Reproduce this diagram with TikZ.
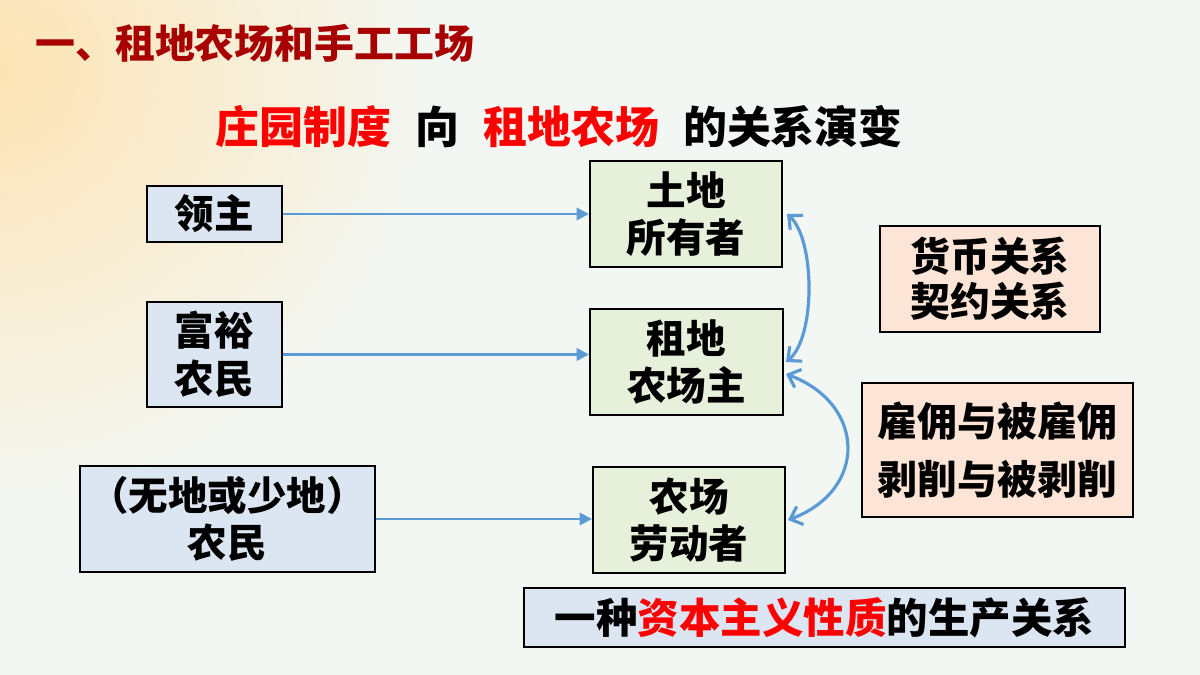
\documentclass[tikz,border=0pt]{standalone}
\usepackage{fontspec}
\setmainfont{Noto Sans CJK SC}[BoldFont={Noto Sans CJK SC Black}]
\usetikzlibrary{arrows.meta,calc}
\definecolor{bgc}{HTML}{F3F7F3}
\definecolor{bgo}{HTML}{FDE4B4}
\definecolor{titlered}{HTML}{A80000}
\definecolor{bluefill}{HTML}{DCE6F2}
\definecolor{greenfill}{HTML}{E6F0DA}
\definecolor{peachfill}{HTML}{FCE4D6}
\definecolor{arrowblue}{HTML}{5B9BD5}
\definecolor{hred}{HTML}{FF0000}
\tikzset{
  box/.style={draw=black, line width=1.2pt, inner sep=0pt, align=center, font=\bfseries\fontsize{22.5}{27}\selectfont},
  leftbox/.style={box, fill=bluefill},
  midbox/.style={box, fill=greenfill},
  rightbox/.style={box, fill=peachfill},
  arr/.style={draw=arrowblue, line width=1.6pt, -{Triangle[length=7pt,width=7pt]}},
  carr/.style={draw=arrowblue, line width=1.8pt, {Straight Barb[length=6pt,width=11pt]}-{Straight Barb[length=6pt,width=11pt]}}
}
\begin{document}
\begin{tikzpicture}[x=0.02cm,y=-0.02cm]
\useasboundingbox (0,0) rectangle (1200,675);
\fill[bgc] (0,0) rectangle (1200,675);
\begin{scope}
\clip (0,0) rectangle (1200,675);
\shade[inner color=bgo, outer color=bgc] (0,70) circle (440);
\end{scope}
% title
\node[anchor=west, text=titlered, font=\bfseries\fontsize{22.7}{27}\selectfont, inner sep=0pt] (title) at (35,43) {一、租地农场和手工工场};
\node[anchor=west, font=\bfseries\fontsize{25}{30}\selectfont, inner sep=0pt] (sub) at (215,127)
 {\textcolor{hred}{庄园制度}\hspace{0.55em}向\hspace{0.55em}\textcolor{hred}{租地农场}\hspace{0.55em}的关系演变};
% left boxes
\node[leftbox, minimum width=2.7cm, minimum height=1.12cm] (lz) at (214.5,214) {领主};
\node[leftbox, minimum width=2.7cm, minimum height=2.1cm] (fy) at (214.5,354.5) {富裕\\农民};
\node[leftbox, minimum width=5.9cm, minimum height=2.12cm] (wd) at (227.5,519) {（无地或少地）\\农民};
% middle boxes
\node[midbox, minimum width=3.84cm, minimum height=2.12cm] (td) at (686,214) {土地\\所有者};
\node[midbox, minimum width=3.86cm, minimum height=2.12cm] (zd) at (686.5,362) {租地\\农场主};
\node[midbox, minimum width=3.84cm, minimum height=2.12cm] (ld) at (689,520) {农场\\劳动者};
% right boxes
\node[rightbox, minimum width=4.4cm, minimum height=2.12cm, font=\bfseries\fontsize{22.7}{25.5}\selectfont] (hb) at (990,279) {货币关系\\契约关系};
\node[rightbox, minimum width=5.42cm, minimum height=2.68cm, font=\bfseries\fontsize{22.7}{33}\selectfont] (gy) at (997.5,450) {雇佣与被雇佣\\剥削与被剥削};
% bottom box
\node[leftbox, minimum width=12.02cm, minimum height=1.18cm, font=\bfseries\fontsize{23.6}{28}\selectfont] (bt) at (824.5,617.5)
 {一种\textcolor{hred}{资本主义性质}的生产关系};
% arrows
\draw[arr] (lz.east) -- (lz.east -| td.west);
\draw[arr] (fy.east) -- (fy.east -| zd.west);
\draw[arr] (wd.east) -- (wd.east -| ld.west);
\draw[carr] ($(td.east)+(4,0)$) .. controls +(28,25) and +(30,-25) .. ($(zd.east)+(2,0)$);
\draw[carr] ($(zd.east)+(2,12)$) .. controls +(80,30) and +(80,-30) .. ($(ld.east)+(2,0)$);
\end{tikzpicture}
\end{document}
